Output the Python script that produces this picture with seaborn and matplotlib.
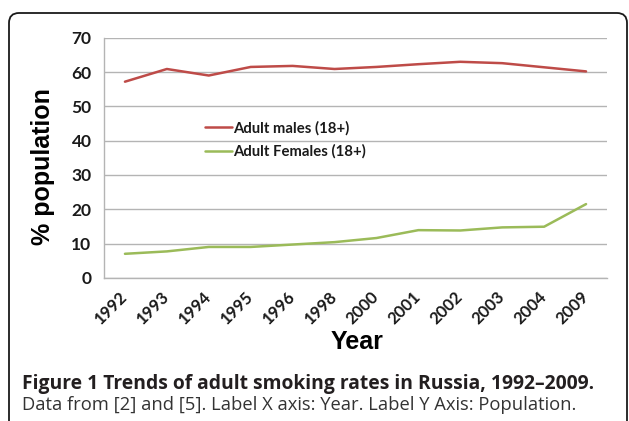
import numpy as np
import pandas as pd
import matplotlib
matplotlib.use("Agg")
import matplotlib.pyplot as plt
import seaborn as sns
from matplotlib.patches import FancyBboxPatch

years = ["1992", "1993", "1994", "1995", "1996", "1998", "2000",
         "2001", "2002", "2003", "2004", "2009"]
males = [57.2, 60.9, 59.0, 61.5, 61.8, 60.9, 61.5, 62.3, 63.0, 62.6, 61.4, 60.2]
females = [7.0, 7.7, 9.0, 9.0, 9.7, 10.4, 11.6, 13.9, 13.8, 14.7, 14.9, 21.5]
series_names = ["Adult males (18+)", "Adult Females (18+)"]
colors = ["#BE4B48", "#9BBB59"]
yticks = [0, 10, 20, 30, 40, 50, 60, 70]

caption_bold = "Figure 1 Trends of adult smoking rates in Russia, 1992\u20132009."
caption_text = "Data from [2] and [5]. Label X axis: Year. Label Y Axis: Population."

df = pd.DataFrame({
    "Year": years * 2,
    "value": males + females,
    "series": [series_names[0]] * len(years) + [series_names[1]] * len(years),
})

sns.set_style("white")
W, H = 629, 421
fig = plt.figure(figsize=(W / 100, H / 100), dpi=100)
ax = fig.add_axes([104 / W, 1 - 277.8 / H, (607 - 104) / W, 240 / H])

sns.lineplot(data=df, x="Year", y="value", hue="series", palette=colors,
             linewidth=1.8, ax=ax, legend=True, sort=False)

grid_c = "#B4B4B4"
ax.set_xlim(-0.5, len(years) - 0.5)
ax.set_ylim(0, 70)
ax.set_yticks(yticks)
ax.yaxis.grid(True, color=grid_c, linewidth=1.0)
ax.xaxis.grid(False)
ax.set_axisbelow(True)
for s in ["top", "right"]:
    ax.spines[s].set_visible(False)
for s in ["left", "bottom"]:
    ax.spines[s].set_color(grid_c)
    ax.spines[s].set_linewidth(1.0)

ax.set_xticks(np.arange(len(years)))
ax.set_xticks(np.arange(len(years) + 1) - 0.5, minor=True)
ax.tick_params(axis="x", which="major", length=0, pad=12)
ax.tick_params(axis="x", which="minor", length=5, width=1, color=grid_c, direction="out")
ax.tick_params(axis="y", which="major", length=5, width=1, color=grid_c, direction="out", pad=4)

for lab in ax.get_xticklabels():
    lab.set_rotation(45)
    lab.set_ha("right")
    lab.set_va("center")
    lab.set_rotation_mode("anchor")
    lab.set_fontfamily("Lato")
    lab.set_fontweight("bold")
    lab.set_fontsize(12)
    lab.set_color("#1a1a1a")
for lab in ax.get_yticklabels():
    lab.set_fontfamily("Lato")
    lab.set_fontweight("bold")
    lab.set_fontsize(12.5)
    lab.set_color("#1a1a1a")

ax.set_xlabel("Year", fontfamily="Liberation Sans", fontweight="bold", fontsize=18, color="black")
ax.xaxis.set_label_coords((357 - 104) / 503, (277.8 - 342) / 240)
ax.xaxis.label.set_va("center")
ax.set_ylabel("% population", fontfamily="Liberation Sans", fontweight="bold", fontsize=18, color="black")
ax.yaxis.set_label_coords((43 - 104) / 503, (277.8 - 167) / 240)
ax.yaxis.label.set_va("center")

handles, labels = ax.get_legend_handles_labels()
leg = ax.legend(handles, labels, loc="center left",
                bbox_to_anchor=((205 - 104) / 503, (277.8 - 140) / 240),
                frameon=False, borderpad=0, borderaxespad=0,
                handlelength=1.8, handletextpad=0.1, labelspacing=0.6,
                prop={"family": "Lato", "weight": "bold", "size": 10.7})
for t in leg.get_texts():
    t.set_color("#1a1a1a")

# frame
frame = FancyBboxPatch((0.09, -0.2), 6.18, 4.08 + 0.2,
                       boxstyle="round,pad=0,rounding_size=0.1",
                       transform=fig.dpi_scale_trans, fill=False,
                       edgecolor="#1a1a1a", linewidth=1.3, zorder=0)
fig.patches.append(frame)

# captions fitted to widths
fig.canvas.draw()
renderer = fig.canvas.get_renderer()

def fitted_text(x, y, s, target_w, weight, color):
    t = fig.text(x / W, 1 - y / H, s, fontfamily="Open Sans", fontweight=weight,
                 fontsize=10, color=color, ha="left", va="baseline")
    w = t.get_window_extent(renderer).width
    t.set_fontsize(10 * target_w / w)
    return t

fitted_text(22, 389, caption_bold, 571, "bold", "#231F20")
fitted_text(22, 410, caption_text, 556, "normal", "#333333")

fig.savefig("out.png", dpi=100)
